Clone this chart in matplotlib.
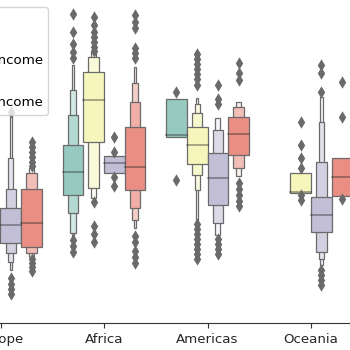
import colorsys

import matplotlib
matplotlib.use("Agg")
import matplotlib.pyplot as plt
from matplotlib.colors import to_rgb, to_hex
from matplotlib.patches import Patch

# --- Data (letter-value box edges, innermost level first, as (low, high)) ---
continents = ["Europe", "Africa", "Americas", "Oceania"]
groups = ["High income", "Upper middle income", "Low income", "Lower middle income"]
base_colors = ["#8dd3c7", "#ffffb3", "#bebada", "#fb8072"]  # Set3

high_levels = [None,
               [(128, 178), (110, 208), (90, 233), (86, 258)],
               [(186, 224)],
               None]
high_medians = [None, 151, 188, None]
high_fliers = [[], [309, 291, 279, 271, 265, 83, 77, 71], [231, 143], []]

upper_levels = [None,
                [(181, 251), (135, 266), (125, 271)],
                [(159, 196), (148, 210), (133, 219), (103, 225)],
                [(130, 150)]]
upper_medians = [None, 223, 178, 131]
upper_fliers = [[],
                [306, 298, 291, 286, 281, 276, 272, 121, 97, 89, 81],
                [269, 264, 259, 254, 249, 244, 238, 99, 94, 89, 84, 79, 74, 69, 64],
                [201, 178, 165, 155, 128, 123]]

low_levels = [[(80, 115), (70, 134), (61, 165), (53, 208)],
              [(150, 167)],
              [(118, 170), (100, 193), (88, 205)],
              [(91, 126), (71, 161), (64, 201), (58, 226)]]
low_medians = [98, 160, 145, 108]
low_fliers = [[211, 45, 39, 34, 29],
              [186, 171, 146, 137],
              [238, 224, 219, 84, 79, 74, 69],
              [258, 250, 231, 53, 48, 43, 38]]

lower_levels = [[(76, 134), (70, 150), (66, 155)],
                [(133, 196), (115, 221), (103, 240), (95, 256)],
                [(168, 206), (155, 216), (147, 221)],
                [(127, 165)]]
lower_medians = [100, 156, 189, 146]
lower_fliers = [[181, 176, 171, 166, 161, 157, 64, 60, 56, 52],
                [308, 301, 295, 275, 270, 265, 87, 81, 72, 66, 60],
                [260, 250, 243, 140, 134, 128, 122, 117],
                [241, 206, 124]]

all_levels = [high_levels, upper_levels, low_levels, lower_levels]
all_medians = [high_medians, upper_medians, low_medians, lower_medians]
all_fliers = [high_fliers, upper_fliers, low_fliers, lower_fliers]


def desaturate(c, prop=0.75):
    h, l, s = colorsys.rgb_to_hls(*to_rgb(c))
    return colorsys.hls_to_rgb(h, l, s * prop)


def mix(c1, c2, t):
    return tuple(a * (1 - t) + b * t for a, b in zip(c1, c2))


colors = [desaturate(c) for c in base_colors]
lum = min(colorsys.rgb_to_hls(*c)[1] for c in colors) * 0.6
gray = to_hex((lum, lum, lum))

fig = plt.figure(figsize=(3.5, 3.5), dpi=100)
# axes extend past the figure edges (cropped view)
ax = fig.add_axes([-51.25 / 350, 27 / 350, 414 / 350, 340 / 350])

box_w = 0.2
for j, color in enumerate(colors):
    light = mix(color, (1, 1, 1), 0.85)
    for i in range(len(continents)):
        levels = all_levels[j][i]
        if levels is None:
            continue
        x = i + (j - 1.5) * box_w
        n = len(levels)
        # outermost first so inner boxes sit on top
        for k in reversed(range(n)):
            lo, hi = levels[k]
            t = k / (n - 1) if n > 1 else 0
            ax.bar(x, hi - lo, bottom=lo, width=box_w * 0.5 ** k,
                   color=mix(color, light, t), edgecolor=gray, linewidth=0.9,
                   zorder=2)
        med = all_medians[j][i]
        ax.plot([x - box_w / 2, x + box_w / 2], [med, med], c=".15", alpha=.45,
                lw=1.2, zorder=3)
        fl = all_fliers[j][i]
        if fl:
            ax.scatter([x] * len(fl), fl, marker="d", c=gray, s=40, zorder=4,
                       linewidths=0)

ax.set_xlim(-0.5, 3.5)
ax.set_ylim(0, 340)
ax.set_xticks(range(len(continents)))
ax.set_xticklabels(continents, fontsize=9.6, color="#262626")
ax.set_yticks([])
ax.tick_params(axis="x", length=3.5, color="#333333")
for side in ["top", "right", "left"]:
    ax.spines[side].set_visible(False)
ax.spines["bottom"].set_color("#333333")

handles = [Patch(facecolor=c, edgecolor=gray, linewidth=0.9) for c in colors]
fig.legend(handles, groups, title="Income group", loc="upper right",
           bbox_to_anchor=(48 / 350, 1 - 7 / 350), borderaxespad=0,
           fontsize=9.6, title_fontsize=9.6, labelspacing=0.6)

fig.savefig("out.png", dpi=100)
